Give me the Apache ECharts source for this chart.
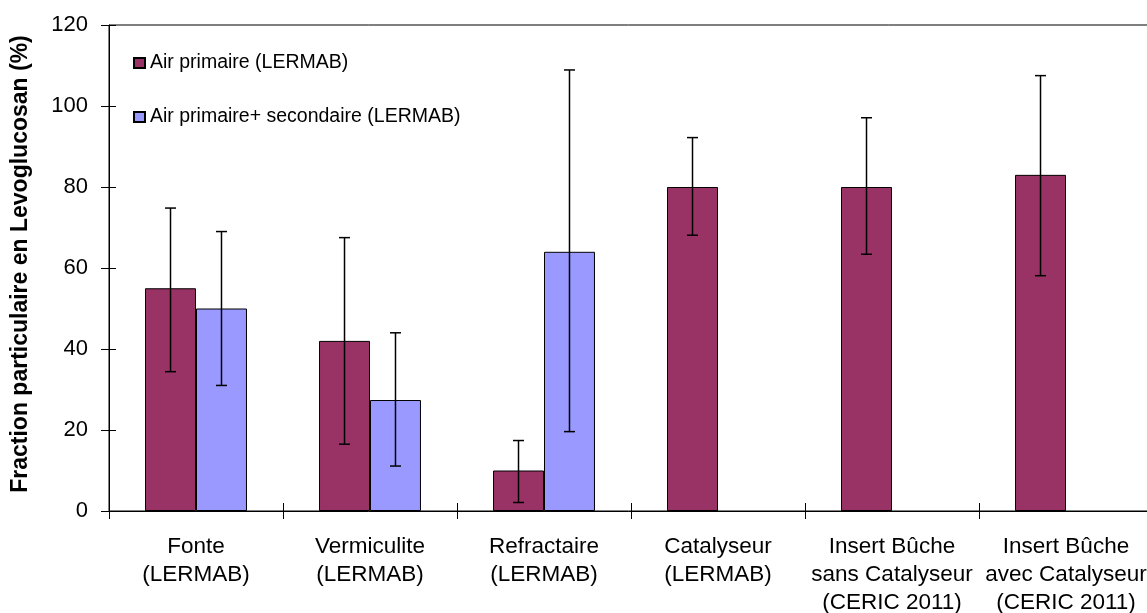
<!DOCTYPE html>
<html>
<head>
<meta charset="utf-8">
<script src="https://cdn.jsdelivr.net/npm/echarts@6/dist/echarts.min.js"></script>
<style>html,body{margin:0;padding:0;background:#fff}#c{width:1147px;height:613px}</style>
</head>
<body>
<div id="c"></div>
<script>
var categories = ['Fonte\n(LERMAB)', 'Vermiculite\n(LERMAB)', 'Refractaire\n(LERMAB)', 'Catalyseur\n(LERMAB)', 'Insert Bûche\nsans Catalyseur\n(CERIC 2011)', 'Insert Bûche\navec Catalyseur\n(CERIC 2011)'];
var primaire = [55, 42, 10, 80, 80, 83];
var primaireLow = [34.4, 16.5, 2.1, 68.1, 63.4, 58.1];
var primaireHigh = [74.8, 67.5, 17.4, 92.2, 97.1, 107.5];
var secondaire = [50, 27.4, 64, null, null, null];
var secondaireLow = [31, 11.1, 19.6, null, null, null];
var secondaireHigh = [69, 44, 108.9, null, null, null];
var yTicks = [0, 20, 40, 60, 80, 100, 120];

var FONT = "'Liberation Sans', Arial, sans-serif";
var BAR_FRAC = 0.293;

function errData(low, high) {
  var out = [];
  for (var i = 0; i < low.length; i++) {
    if (low[i] != null) out.push([i, low[i], high[i]]);
  }
  return out;
}
function errRender(sign) {
  return function (params, api) {
    var idx = api.value(0);
    var lo = api.coord([idx, api.value(1)]);
    var hi = api.coord([idx, api.value(2)]);
    var band = api.size([1, 0])[0];
    var x = lo[0] + sign * band * BAR_FRAC / 2;
    var cap = 5.5;
    var st = { stroke: '#000', lineWidth: 1.5 };
    return {
      type: 'group',
      children: [
        { type: 'line', shape: { x1: x, y1: lo[1], x2: x, y2: hi[1] }, style: st },
        { type: 'line', shape: { x1: x - cap, y1: hi[1], x2: x + cap, y2: hi[1] }, style: st },
        { type: 'line', shape: { x1: x - cap, y1: lo[1], x2: x + cap, y2: lo[1] }, style: st }
      ]
    };
  };
}

var chart = echarts.init(document.getElementById('c'));
chart.setOption({
  animation: false,
  backgroundColor: '#fff',
  textStyle: { fontFamily: FONT },
  grid: { left: 109, top: 25, width: 1044, height: 486, outerBoundsMode: 'none', containLabel: false,
    show: true, borderColor: '#000', borderWidth: 1, backgroundColor: 'transparent' },
  legend: {
    data: ['Air primaire (LERMAB)', 'Air primaire+ secondaire (LERMAB)'],
    orient: 'vertical',
    left: 128, top: 48,
    itemWidth: 11, itemHeight: 10, itemGap: 34,
    icon: 'rect',
    textStyle: { fontSize: 19.5, color: '#000', fontFamily: FONT }
  },
  xAxis: [
    {
      type: 'category', data: categories, position: 'bottom',
      axisLine: { lineStyle: { color: '#000', width: 1 } },
      axisTick: { show: true, length: 8, lineStyle: { color: '#000' } },
      axisLabel: { color: '#000', fontSize: 22.5, lineHeight: 28, margin: 22, interval: 0, fontFamily: FONT },
      splitLine: { show: false }
    },
    {
      type: 'category', data: categories, position: 'bottom',
      axisLine: { show: false },
      axisTick: { show: true, inside: true, length: 8, lineStyle: { color: '#000' } },
      axisLabel: { show: false },
      splitLine: { show: false }
    }
  ],
  yAxis: [
    {
      type: 'value', min: 0, max: 120, interval: 20, position: 'left',
      axisLine: { show: true, lineStyle: { color: '#000', width: 1 } },
      axisTick: { show: true, length: 8, lineStyle: { color: '#000' } },
      axisLabel: { color: '#000', fontSize: 22, margin: 21, fontFamily: FONT,
        formatter: function (v) { return yTicks.indexOf(v) >= 0 ? String(v) : ''; } },
      splitLine: { show: false }
    },
    {
      type: 'value', min: 0, max: 120, interval: 20, position: 'left',
      axisLine: { show: false },
      axisTick: { show: true, inside: true, length: 7, lineStyle: { color: '#000' } },
      axisLabel: { show: false },
      splitLine: { show: false }
    }
  ],
  graphic: [{
    type: 'text', x: 21, y: 264, rotation: Math.PI / 2,
    style: { text: 'Fraction particulaire en Levoglucosan (%)', fontSize: 23, fontWeight: 'bold', fill: '#000',
      fontFamily: FONT, textAlign: 'center', textVerticalAlign: 'middle' }
  }],
  series: [
    {
      name: 'Air primaire (LERMAB)', type: 'bar', data: primaire,
      barWidth: (BAR_FRAC * 100) + '%', barGap: '0%',
      itemStyle: { color: '#993366', borderColor: '#000', borderWidth: 1 }
    },
    {
      name: 'Air primaire+ secondaire (LERMAB)', type: 'bar', data: secondaire,
      barWidth: (BAR_FRAC * 100) + '%', barGap: '0%',
      itemStyle: { color: '#9999FF', borderColor: '#000', borderWidth: 1 }
    },
    {
      type: 'custom', name: 'errP', data: errData(primaireLow, primaireHigh),
      renderItem: errRender(-1), z: 5, encode: { x: 0, y: [1, 2] }
    },
    {
      type: 'custom', name: 'errS', data: errData(secondaireLow, secondaireHigh),
      renderItem: errRender(1), z: 5, encode: { x: 0, y: [1, 2] }
    }
  ]
});
</script>
</body>
</html>
